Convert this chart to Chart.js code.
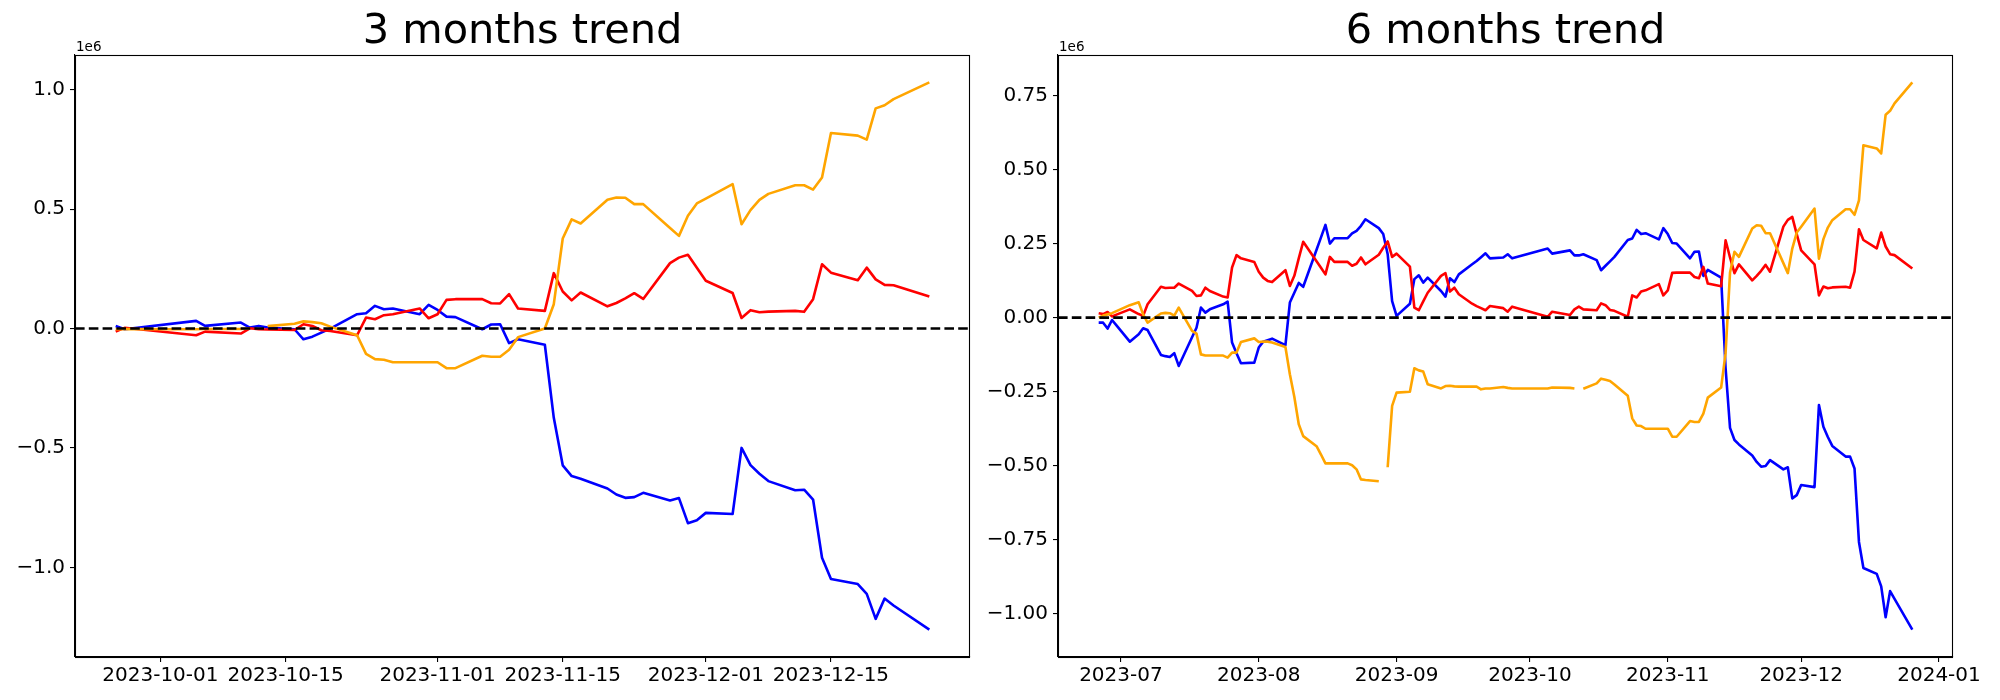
<!DOCTYPE html>
<html>
<head>
<meta charset="utf-8">
<script src="https://cdn.jsdelivr.net/npm/chart.js@4.4.1/dist/chart.umd.min.js"></script>
<style>
html, body { margin: 0; padding: 0; background: #ffffff; }
#wrap { position: relative; width: 2000px; height: 700px; overflow: hidden; background: #ffffff; }
canvas { position: absolute; top: 0; }
</style>
</head>
<body>
<div id="wrap">
  <canvas id="c3" width="975" height="700" style="left:0px;width:975px;height:700px"></canvas>
  <canvas id="c6" width="1025" height="700" style="left:975px;width:1025px;height:700px"></canvas>
</div>
<script>
// ---------------- 3 months trend (values in units of 1e6) ----------------
const dates3m = [
  '2023-09-26','2023-09-27','2023-10-05','2023-10-06','2023-10-10','2023-10-11','2023-10-12','2023-10-13',
  '2023-10-16','2023-10-17','2023-10-18','2023-10-19','2023-10-20','2023-10-23','2023-10-24','2023-10-25',
  '2023-10-26','2023-10-27','2023-10-30','2023-10-31','2023-11-01','2023-11-02','2023-11-03','2023-11-06',
  '2023-11-07','2023-11-08','2023-11-09','2023-11-10','2023-11-13','2023-11-14','2023-11-15','2023-11-16',
  '2023-11-17','2023-11-20','2023-11-21','2023-11-22','2023-11-23','2023-11-24','2023-11-27','2023-11-28',
  '2023-11-29','2023-11-30','2023-12-01','2023-12-04','2023-12-05','2023-12-06','2023-12-07','2023-12-08',
  '2023-12-11','2023-12-12','2023-12-13','2023-12-14','2023-12-15','2023-12-18','2023-12-19','2023-12-20',
  '2023-12-21','2023-12-22','2023-12-26'
];
const blue3m = [
  0.011,-0.003,0.032,0.011,0.025,0.004,0.011,0.004,
  -0.003,-0.045,-0.034,-0.017,0.000,0.060,0.064,0.095,
  0.081,0.084,0.060,0.099,0.078,0.050,0.048,-0.003,
  0.017,0.018,-0.061,-0.045,-0.068,-0.374,-0.573,-0.618,
  -0.629,-0.670,-0.695,-0.709,-0.706,-0.688,-0.720,-0.710,
  -0.815,-0.803,-0.772,-0.777,-0.500,-0.572,-0.608,-0.639,
  -0.677,-0.675,-0.716,-0.960,-1.049,-1.070,-1.111,-1.216,
  -1.131,-1.160,-1.261
];
const red3m = [
  -0.013,0.003,-0.028,-0.013,-0.021,0.001,-0.003,-0.004,
  -0.006,0.018,0.011,-0.007,-0.010,-0.028,0.046,0.039,
  0.056,0.060,0.084,0.043,0.060,0.120,0.123,0.123,
  0.106,0.105,0.144,0.084,0.074,0.232,0.155,0.118,
  0.151,0.093,0.107,0.126,0.148,0.124,0.274,0.297,
  0.309,0.255,0.200,0.149,0.044,0.077,0.068,0.071,
  0.074,0.070,0.123,0.269,0.234,0.202,0.255,0.206,
  0.183,0.181,0.134
];
const orange3m = [
  -0.003,-0.002,-0.003,-0.002,-0.002,0.000,null,0.010,
  0.020,0.030,0.027,0.022,0.008,-0.028,-0.106,-0.128,
  -0.131,-0.141,-0.141,-0.141,-0.141,-0.166,-0.166,-0.114,
  -0.118,-0.118,-0.089,-0.036,0.000,0.102,0.377,0.457,
  0.440,0.539,0.549,0.548,0.521,0.521,0.421,0.388,
  0.472,0.524,0.544,0.605,0.437,0.496,0.539,0.564,
  0.600,0.600,0.582,0.633,0.819,0.808,0.791,0.922,
  0.935,0.961,1.031
];
const xTicks3m = ['2023-10-01','2023-10-15','2023-11-01','2023-11-15','2023-12-01','2023-12-15'];
const yTicks3m = [-1.0, -0.5, 0.0, 0.5, 1.0];

// ---------------- 6 months trend (values in units of 1e6) ----------------
const dates6m = [
  '2023-06-26','2023-06-27','2023-06-28','2023-06-29','2023-06-30','2023-07-03','2023-07-05','2023-07-06',
  '2023-07-07','2023-07-10','2023-07-11','2023-07-12','2023-07-13','2023-07-14','2023-07-17','2023-07-18',
  '2023-07-19','2023-07-20','2023-07-21','2023-07-24','2023-07-25','2023-07-26','2023-07-27','2023-07-28',
  '2023-07-31','2023-08-01','2023-08-02','2023-08-03','2023-08-04','2023-08-07','2023-08-08','2023-08-09',
  '2023-08-10','2023-08-11','2023-08-14','2023-08-15','2023-08-16','2023-08-17','2023-08-18','2023-08-21',
  '2023-08-22','2023-08-23','2023-08-24','2023-08-25','2023-08-28','2023-08-29','2023-08-30','2023-08-31',
  '2023-09-01','2023-09-04','2023-09-05','2023-09-06','2023-09-07','2023-09-08','2023-09-11','2023-09-12',
  '2023-09-13','2023-09-14','2023-09-15','2023-09-18','2023-09-19','2023-09-20','2023-09-21','2023-09-22',
  '2023-09-25','2023-09-26','2023-09-27','2023-10-05','2023-10-06','2023-10-10','2023-10-11','2023-10-12',
  '2023-10-13','2023-10-16','2023-10-17','2023-10-18','2023-10-19','2023-10-20','2023-10-23','2023-10-24',
  '2023-10-25','2023-10-26','2023-10-27','2023-10-30','2023-10-31','2023-11-01','2023-11-02','2023-11-03',
  '2023-11-06','2023-11-07','2023-11-08','2023-11-09','2023-11-10','2023-11-13','2023-11-14','2023-11-15',
  '2023-11-16','2023-11-17','2023-11-20','2023-11-21','2023-11-22','2023-11-23','2023-11-24','2023-11-27',
  '2023-11-28','2023-11-29','2023-11-30','2023-12-01','2023-12-04','2023-12-05','2023-12-06','2023-12-07',
  '2023-12-08','2023-12-11','2023-12-12','2023-12-13','2023-12-14','2023-12-15','2023-12-18','2023-12-19',
  '2023-12-20','2023-12-21','2023-12-22','2023-12-26'
];
const blue6m = [
  -0.017,-0.017,-0.037,-0.008,-0.026,-0.081,-0.056,-0.036,
  -0.042,-0.126,-0.130,-0.133,-0.120,-0.163,-0.066,-0.034,
  0.034,0.017,0.028,0.045,0.054,-0.084,-0.120,-0.154,
  -0.152,-0.101,-0.081,-0.076,-0.071,-0.093,0.051,0.084,
  0.117,0.104,0.229,0.271,0.313,0.250,0.268,0.268,
  0.284,0.293,0.310,0.332,0.302,0.282,0.214,0.056,
  0.006,0.047,0.130,0.143,0.118,0.135,0.090,0.071,
  0.133,0.120,0.146,0.180,0.191,0.204,0.217,0.200,
  0.203,0.214,0.200,0.233,0.216,0.227,0.210,0.210,
  0.214,0.194,0.160,0.175,0.190,0.205,0.262,0.267,
  0.296,0.282,0.285,0.264,0.302,0.282,0.252,0.250,
  0.200,0.222,0.223,0.141,0.161,0.135,-0.170,-0.372,
  -0.413,-0.428,-0.465,-0.487,-0.503,-0.501,-0.481,-0.512,
  -0.505,-0.610,-0.599,-0.565,-0.572,-0.295,-0.368,-0.403,
  -0.433,-0.469,-0.469,-0.509,-0.757,-0.845,-0.865,-0.907,
  -1.011,-0.923,-0.949,-1.053
];
const red6m = [
  0.015,0.012,0.019,0.004,0.010,0.028,0.012,0.006,
  0.045,0.104,0.100,0.101,0.101,0.115,0.090,0.073,
  0.075,0.101,0.090,0.071,0.068,0.169,0.211,0.200,
  0.188,0.155,0.135,0.124,0.120,0.160,0.107,0.141,
  0.200,0.256,0.190,0.168,0.146,0.205,0.188,0.188,
  0.175,0.182,0.203,0.180,0.212,0.236,0.257,0.205,
  0.216,0.172,0.034,0.025,0.055,0.084,0.141,0.150,
  0.088,0.101,0.079,0.047,0.039,0.032,0.025,0.039,
  0.032,0.020,0.037,0.003,0.020,0.009,0.028,0.037,
  0.028,0.025,0.048,0.042,0.026,0.023,0.003,0.075,
  0.068,0.088,0.092,0.113,0.075,0.092,0.151,0.152,
  0.152,0.137,0.133,0.171,0.115,0.106,0.261,0.203,
  0.150,0.180,0.126,0.141,0.158,0.178,0.155,0.307,
  0.330,0.340,0.282,0.227,0.180,0.075,0.105,0.099,
  0.102,0.104,0.101,0.155,0.298,0.262,0.234,0.287,
  0.240,0.214,0.211,0.166
];
const orange6m = [
  0.000,0.007,0.011,0.015,0.022,0.042,0.052,0.011,
  -0.017,0.014,0.016,0.015,0.007,0.034,-0.045,-0.054,
  -0.124,-0.128,-0.128,-0.128,-0.135,-0.118,-0.118,-0.082,
  -0.070,-0.082,-0.081,-0.081,-0.084,-0.099,-0.191,-0.267,
  -0.360,-0.400,-0.434,-0.462,-0.492,-0.492,-0.492,-0.492,
  -0.498,-0.512,-0.546,-0.548,-0.552,null,-0.505,-0.298,
  -0.253,-0.250,-0.171,-0.178,-0.182,-0.225,-0.239,-0.231,
  -0.230,-0.232,-0.233,-0.233,-0.233,-0.242,-0.239,-0.239,
  -0.234,-0.237,-0.239,-0.239,-0.236,-0.237,-0.239,null,
  -0.240,-0.222,-0.206,-0.210,-0.214,-0.226,-0.264,-0.340,
  -0.364,-0.366,-0.375,-0.375,-0.375,-0.375,-0.402,-0.402,
  -0.349,-0.352,-0.352,-0.324,-0.270,-0.236,-0.120,0.152,
  0.222,0.205,0.301,0.312,0.310,0.285,0.285,0.184,
  0.150,0.233,0.287,0.307,0.368,0.199,0.265,0.304,
  0.329,0.366,0.366,0.347,0.396,0.582,0.571,0.554,
  0.685,0.698,0.723,0.794
];
const xTicks6m = ['2023-07-01','2023-08-01','2023-09-01','2023-10-01','2023-11-01','2023-12-01','2024-01-01'];
const yTicks6m = [-1.0, -0.75, -0.5, -0.25, 0.0, 0.25, 0.5, 0.75];

const seriesColors = { blue: '#0000ff', red: '#ff0000', orange: '#ffa500' };

Chart.defaults.font.family = "'DejaVu Sans', sans-serif";
Chart.defaults.color = '#000000';

function toDay(s) {
  const p = s.split('-').map(Number);
  return Date.UTC(p[0], p[1] - 1, p[2]) / 86400000;
}
function fmtNum(v, dec) {
  const s = Math.abs(v).toFixed(dec);
  return (v < -1e-9 ? '\u2212' : '') + s;
}

const framePlugin = {
  id: 'mplFrame',
  afterDatasetsDraw(chart) {
    const ctx = chart.ctx, a = chart.chartArea, y = chart.scales.y;
    ctx.save();
    // horizontal dashed zero line (axhline)
    const y0 = y.getPixelForValue(0);
    ctx.strokeStyle = '#000000';
    ctx.lineWidth = 2.6;
    ctx.setLineDash([9.6, 4.2]);
    ctx.beginPath();
    ctx.moveTo(a.left, y0);
    ctx.lineTo(a.right, y0);
    ctx.stroke();
    ctx.setLineDash([]);
    // axes frame
    ctx.lineWidth = 1.1;
    ctx.strokeRect(Math.round(a.left) + 0.5, Math.round(a.top) + 0.5,
                   Math.round(a.right - a.left) - 1, Math.round(a.bottom - a.top));
    // offset text
    ctx.fillStyle = '#000000';
    ctx.font = "13.5px 'DejaVu Sans'";
    ctx.textAlign = 'left';
    ctx.textBaseline = 'alphabetic';
    ctx.fillText('1e6', a.left + 1, a.top - 4);
    ctx.restore();
  }
};

function makeChart(id, opt) {
  const xs = opt.dates.map(toDay);
  const all = [];
  opt.series.forEach(s => s.values.forEach(v => { if (v !== null) all.push(v); }));
  const lo = Math.min(...all), hi = Math.max(...all);
  const ym = 0.05 * (hi - lo);
  const x0 = xs[0], x1 = xs[xs.length - 1];
  const xm = 0.05 * (x1 - x0);
  const xTickVals = opt.xTicks.map(toDay);

  const datasets = opt.series.map(s => ({
    label: s.name,
    data: xs.map((x, i) => ({ x: x, y: s.values[i] })),
    borderColor: s.color,
    backgroundColor: s.color,
    borderWidth: 2.6,
    pointRadius: 0,
    pointHoverRadius: 0,
    tension: 0,
    fill: false,
    spanGaps: false,
    borderJoinStyle: 'round',
    borderCapStyle: 'butt'
  }));

  return new Chart(document.getElementById(id), {
    type: 'line',
    data: { datasets: datasets },
    plugins: [framePlugin],
    options: {
      responsive: false,
      animation: false,
      devicePixelRatio: 1,
      layout: { padding: { left: 0, right: opt.padRight, top: 0, bottom: 0 } },
      plugins: {
        legend: { display: false },
        tooltip: { enabled: false },
        title: {
          display: true,
          text: opt.title,
          fullSize: false,
          color: '#000000',
          font: { size: 41.5, weight: 'normal', lineHeight: 1.0 },
          padding: { top: 11, bottom: 2.5 }
        }
      },
      scales: {
        x: {
          type: 'linear',
          min: x0 - xm,
          max: x1 + xm,
          grid: { display: true, drawOnChartArea: false, drawTicks: true, tickLength: 5, color: '#000000', lineWidth: 1.1 },
          border: { display: true, color: '#000000', width: 1.1 },
          ticks: {
            color: '#000000', font: { size: 20 }, padding: 2,
            autoSkip: false, maxRotation: 0, minRotation: 0,
            callback: (v, i) => opt.xLabel(opt.xTicks[i])
          },
          afterBuildTicks: s => { s.ticks = xTickVals.map(v => ({ value: v })); },
          afterFit: s => { s.height = 43; s.paddingLeft = 0; s.paddingRight = 0; }
        },
        y: {
          type: 'linear',
          min: lo - ym,
          max: hi + ym,
          grid: { display: true, drawOnChartArea: false, drawTicks: true, tickLength: 5, color: '#000000', lineWidth: 1.1 },
          border: { display: true, color: '#000000', width: 1.1 },
          ticks: {
            color: '#000000', font: { size: 20 }, padding: 5,
            autoSkip: false,
            callback: (v) => fmtNum(v, opt.yDec)
          },
          afterBuildTicks: s => { s.ticks = opt.yTicks.map(v => ({ value: v })); },
          afterFit: s => { s.width = opt.yWidth; s.paddingTop = 0; s.paddingBottom = 0; }
        }
      }
    }
  });
}

makeChart('c3', {
  title: '3 months trend',
  dates: dates3m,
  series: [
    { name: 'orange', color: seriesColors.orange, values: orange3m },
    { name: 'red', color: seriesColors.red, values: red3m },
    { name: 'blue', color: seriesColors.blue, values: blue3m }
  ],
  xTicks: xTicks3m,
  xLabel: s => s,
  yTicks: yTicks3m,
  yDec: 1,
  yWidth: 75,
  padRight: 5
});

makeChart('c6', {
  title: '6 months trend',
  dates: dates6m,
  series: [
    { name: 'orange', color: seriesColors.orange, values: orange6m },
    { name: 'red', color: seriesColors.red, values: red6m },
    { name: 'blue', color: seriesColors.blue, values: blue6m }
  ],
  xTicks: xTicks6m,
  xLabel: s => s.slice(0, 7),
  yTicks: yTicks6m,
  yDec: 2,
  yWidth: 83,
  padRight: 47
});
</script>
</body>
</html>
